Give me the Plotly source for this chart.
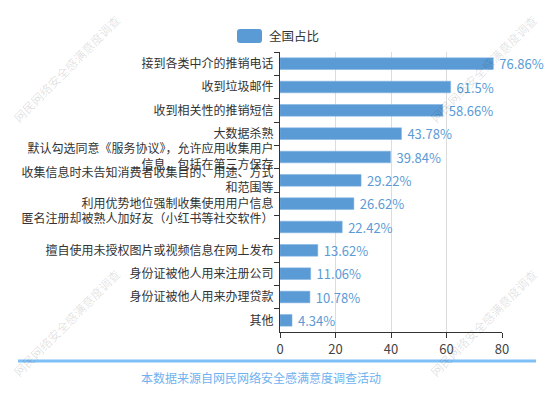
import plotly.graph_objects as go

categories = [
    "接到各类中介的推销电话",
    "收到垃圾邮件",
    "收到相关性的推销短信",
    "大数据杀熟",
    "默认勾选同意《服务协议》，允许应用收集用户<br>信息，包括在第三方保存",
    "收集信息时未告知消费者收集目的、用途、方式<br>和范围等",
    "利用优势地位强制收集使用用户信息",
    "匿名注册却被熟人加好友（小红书等社交软件）<br> ",
    "擅自使用未授权图片或视频信息在网上发布",
    "身份证被他人用来注册公司",
    "身份证被他人用来办理贷款",
    "其他",
]
values = [76.86, 61.5, 58.66, 43.78, 39.84, 29.22, 26.62, 22.42, 13.62, 11.06, 10.78, 4.34]
value_labels = ["76.86%", "61.5%", "58.66%", "43.78%", "39.84%", "29.22%",
                "26.62%", "22.42%", "13.62%", "11.06%", "10.78%", "4.34%"]
series_name = "全国占比"
x_ticks = [0, 20, 40, 60, 80]
source_text = "本数据来源自网民网络安全感满意度调查活动"
watermark = "网民网络安全感满意度调查"

FONT = "Noto Sans CJK SC, Noto Sans, sans-serif"
BAR = "#5B9BD5"

fig = go.Figure()
fig.add_trace(go.Bar(
    y=categories, x=values, orientation="h", name=series_name,
    marker=dict(color=BAR, line=dict(color="#7fb3e3", width=0.5)),
    text=value_labels, texttemplate="\u00a0%{text}",
    textposition="outside", cliponaxis=False,
    constraintext="none",
    textfont=dict(color=BAR, size=13, family=FONT),
    showlegend=False, hoverinfo="skip",
))

W, H = 554, 394
L, R, T, B = 280, 52, 52, 62
PW, PH = W - L - R, H - T - B

fig.update_layout(
    width=W, height=H,
    margin=dict(l=L, r=R, t=T, b=B, pad=0, autoexpand=False),
    paper_bgcolor="white", plot_bgcolor="white",
    font=dict(family=FONT, size=12, color="#333"),
    bargap=0.5,
    xaxis=dict(range=[0, 80], tickvals=x_ticks, showgrid=True, gridcolor="#dcdcdc",
               gridwidth=1, zeroline=False, showline=True, linecolor="#333",
               linewidth=1, ticks="outside", ticklen=5, tickcolor="#333",
               automargin=False,
               tickfont=dict(size=13, color="#444", family=FONT), fixedrange=True),
    yaxis=dict(autorange="reversed", showline=True, linecolor="#333", linewidth=1,
               ticks="outside", ticklen=5, tickcolor="#333", tickson="boundaries",
               showgrid=False, automargin=False,
               tickfont=dict(size=12, color="#333", family=FONT),
               ticklabelstandoff=3, fixedrange=True),
)

def px_x(x):
    return (x - L) / PW

def px_y(y):
    return (H - B - y) / PH

# legend icon (rounded rect) + text
x0, x1, y0, y1, r = 237, 262, 29, 43, 3
pts = [
    ("M", x0 + r, y0), ("L", x1 - r, y0), ("Q", x1, y0, x1, y0 + r),
    ("L", x1, y1 - r), ("Q", x1, y1, x1 - r, y1), ("L", x0 + r, y1),
    ("Q", x0, y1, x0, y1 - r), ("L", x0, y0 + r), ("Q", x0, y0, x0 + r, y0),
]
path = ""
for p in pts:
    cmd = p[0]
    coords = p[1:]
    parts = []
    for i in range(0, len(coords), 2):
        parts.append(f"{px_x(coords[i]):.5f},{px_y(coords[i+1]):.5f}")
    path += cmd + " ".join(parts) + " "
path += "Z"
fig.add_shape(type="path", xref="paper", yref="paper", path=path,
              fillcolor=BAR, line=dict(width=0), layer="above")
fig.add_annotation(xref="paper", yref="paper", x=px_x(267), y=px_y(36),
                   text=series_name, showarrow=False, xanchor="left", yanchor="middle",
                   font=dict(size=12.5, color="#333", family=FONT))

# bottom line and source
fig.add_shape(type="line", xref="paper", yref="paper",
              x0=px_x(18), x1=px_x(536), y0=px_y(361), y1=px_y(361),
              line=dict(color="#7fc0f7", width=3))
fig.add_annotation(xref="paper", yref="paper", x=px_x(261), y=px_y(377),
                   text=source_text, showarrow=False, xanchor="center", yanchor="middle",
                   font=dict(size=12, color="#6fb2ef", family=FONT))

# watermarks
for cx, cy in [(66, 68), (483, 68), (66, 322), (483, 322)]:
    fig.add_annotation(xref="paper", yref="paper", x=px_x(cx), y=px_y(cy),
                       text=watermark, showarrow=False, textangle=-45,
                       xanchor="center", yanchor="middle",
                       font=dict(size=12, color="rgba(0,0,0,0.13)", family=FONT))

fig.write_html("out.html", config={"displayModeBar": False},
               post_script="document.body.style.margin='0';document.body.style.padding='0';")
